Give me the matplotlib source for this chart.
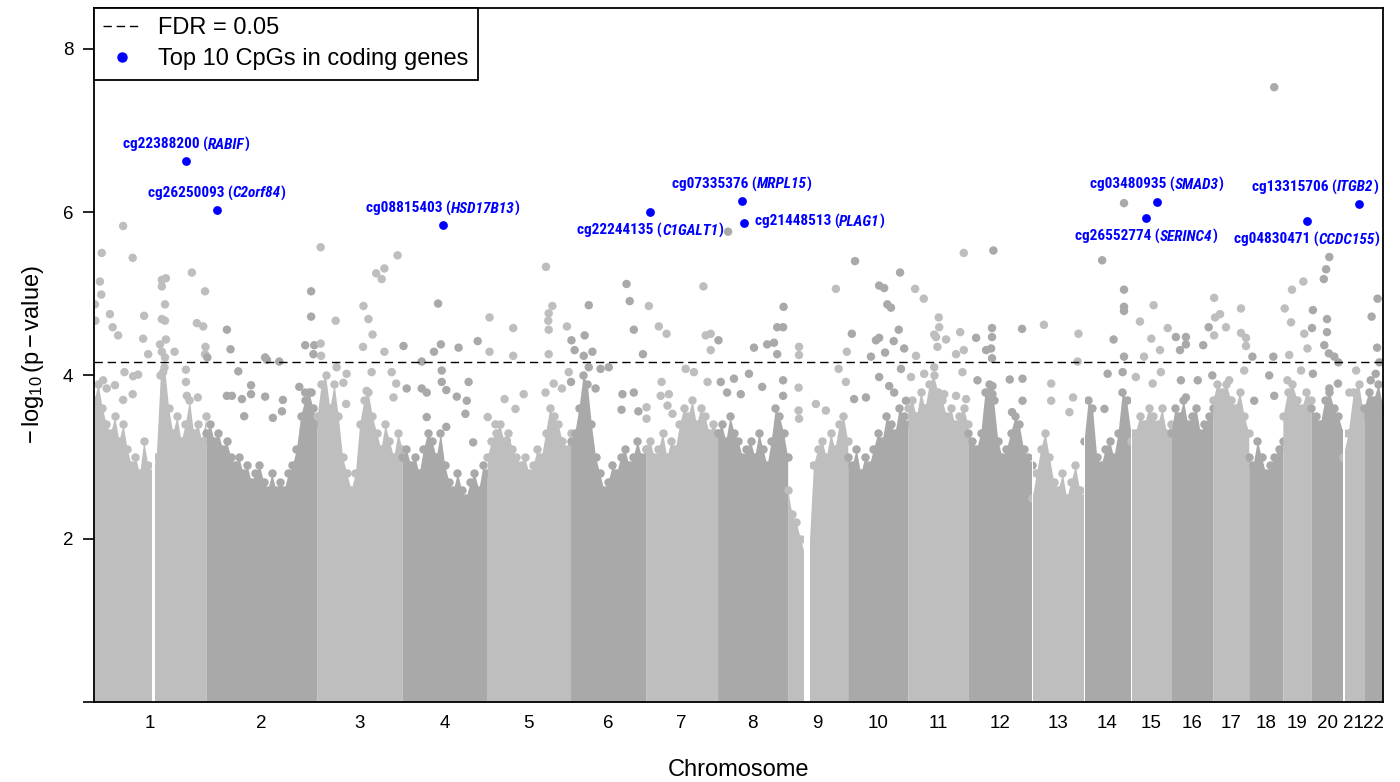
import matplotlib
matplotlib.use('Agg')
import matplotlib.pyplot as plt
from matplotlib import font_manager
from matplotlib.lines import Line2D
from matplotlib.offsetbox import TextArea, HPacker, AnnotationBbox
import numpy as np

# ---------------- data ----------------
chrom_names = [str(i) for i in range(1, 23)]
chrom_len = [246, 244, 187, 187, 183, 165, 158, 154, 132, 132, 132, 141,
             114, 103, 88, 92, 79, 75, 62, 70, 46, 42]          # plotted span (Mb)

# top of the dense point mass, at evenly spaced positions along each chromosome
core_1 = [3.7, 3.9, 3.6, 3.4, 3.3, 3.5, 3.2, 3.4, 3.1, 2.9, 3.0, 2.8, 3.2, 2.9, 2.8, 3.0, 4.0, 4.1, 3.6, 3.3, 3.5, 3.2, 3.4, 3.7, 3.3, 3.4, 3.2, 3.5]
core_2 = [3.3, 3.4, 3.2, 3.3, 3.1, 3.2, 3.0, 2.9, 3.0, 2.8, 2.9, 2.7, 2.8, 2.9, 2.7, 2.6, 2.8, 2.6, 2.7, 2.6, 2.8, 2.9, 3.1, 3.5, 3.7, 3.8, 3.6, 3.4]
core_3 = [3.5, 3.9, 4.0, 3.6, 3.9, 3.5, 3.0, 2.8, 2.6, 2.8, 3.4, 3.7, 3.8, 3.5, 3.3, 3.1, 3.4, 3.2, 3.0, 3.3, 3.1]
core_4 = [3.0, 3.1, 2.9, 3.0, 2.8, 3.1, 3.3, 3.2, 3.0, 3.3, 2.9, 2.7, 2.6, 2.8, 2.6, 2.5, 2.7, 2.8, 2.6, 2.9, 2.8]
core_5 = [3.0, 3.2, 3.3, 3.4, 3.2, 3.3, 3.1, 3.0, 2.9, 3.0, 2.8, 2.9, 3.1, 3.0, 3.3, 3.6, 3.5, 3.4, 3.2, 3.1, 3.3]
core_6 = [3.2, 3.3, 3.6, 4.0, 3.9, 3.4, 3.0, 2.8, 2.6, 2.7, 2.9, 2.8, 3.0, 3.1, 2.9, 3.0, 3.2, 3.0, 3.1]
core_7 = [3.1, 3.2, 3.0, 3.1, 3.3, 3.0, 3.2, 3.1, 3.4, 3.6, 3.5, 3.7, 3.4, 3.6, 3.5, 3.3, 3.4, 3.3]
core_8 = [3.3, 3.4, 3.2, 3.5, 3.3, 3.2, 3.0, 3.1, 3.2, 3.0, 3.3, 3.1, 2.9, 3.2, 3.6, 3.5, 3.3, 3.0]
core_9 = [2.6, 2.3, 2.2, 2.0, 1.8, 1.9, 2.9, 3.1, 3.2, 3.0, 3.3, 3.1, 3.4, 3.5, 3.2]
core_10 = [3.0, 2.9, 3.1, 2.8, 3.0, 2.9, 3.1, 3.3, 3.2, 3.5, 3.4, 3.3, 3.6, 3.5, 3.4]
core_11 = [3.6, 3.7, 3.5, 3.8, 3.6, 3.9, 4.0, 3.8, 3.7, 3.5, 3.6, 3.4, 3.5, 3.6, 3.4]
core_12 = [3.3, 3.2, 3.1, 3.3, 3.8, 3.9, 3.7, 3.2, 3.0, 3.1, 3.3, 3.5, 3.4, 3.1, 3.0, 2.9]
core_13 = [2.5, 2.8, 3.1, 3.3, 3.0, 2.7, 2.6, 2.8, 2.5, 2.7, 2.9, 2.6, 2.5]
core_14 = [3.2, 3.7, 3.6, 3.0, 2.9, 3.1, 3.2, 3.0, 3.3, 3.8, 3.7, 3.3]
core_15 = [3.2, 3.3, 3.5, 3.4, 3.6, 3.5, 3.4, 3.6, 3.3, 3.4]
core_16 = [3.3, 3.6, 3.5, 3.7, 3.4, 3.5, 3.6, 3.3, 3.4, 3.5, 3.6]
core_17 = [3.7, 3.9, 3.8, 3.9, 3.7, 3.6, 3.8, 3.5, 3.3]
core_18 = [3.0, 2.9, 3.2, 3.0, 2.8, 2.9, 3.0, 3.1, 3.2]
core_19 = [3.5, 3.8, 3.9, 3.7, 3.6, 3.8, 3.7]
core_20 = [3.6, 3.5, 3.4, 3.7, 3.8, 3.6, 3.5, 3.3]
core_21 = [3.0, 3.3, 3.8, 3.9, 3.5]
core_22 = [3.6, 3.8, 3.7, 3.9, 3.6]

# regions without probes (chromosome, start Mb, end Mb)
gap_chr = [1, 9, 13, 14, 15, 21]
gap_start = [128, 35, 0, 0, 0, 0]
gap_end = [134, 50, 3, 3, 3, 4]

# individual CpGs standing out above the dense mass
pt_chr, pt_pos, pt_val = [], [], []
def _add(c, pairs):
    for p, v in pairs:
        pt_chr.append(c); pt_pos.append(p); pt_val.append(v)

_add(1, [(64,5.83),(17,5.50),(85,5.44),(13,5.15),(16,4.99),(2,4.87),(35,4.75),(3,4.67),(41,4.59),(53,4.49),(110,4.73),(108,4.45),(119,4.26),(149,5.17),(158,5.19),(149,5.09),(156,4.87),(149,4.69),(156,4.67),(158,4.44),(145,4.38),(149,4.29),(156,4.22),(177,4.29),(215,5.26),(244,5.03),(226,4.64),(240,4.60),(245,4.35),(244,4.26),(67,4.04),(86,3.99),(97,4.01),(64,3.70),(85,3.77),(28,3.84),(46,3.88),(20,3.94),(152,4.04),(202,4.07),(202,3.92),(204,3.75),(228,3.73)])
_add(2, [(3,4.22),(46,4.56),(54,4.32),(130,4.22),(134,4.19),(161,4.17),(231,5.03),(231,4.72),(218,4.37),(238,4.37),(236,4.26),(71,4.05),(46,3.75),(57,3.75),(99,3.88),(99,3.77),(79,3.71),(130,3.74),(169,3.70),(205,3.86),(218,3.79),(232,3.79),(167,3.56),(147,3.48),(84,3.50)])
_add(3, [(8,5.57),(41,4.67),(8,4.39),(9,4.24),(102,4.85),(113,4.69),(122,4.50),(101,4.35),(130,5.25),(142,5.18),(148,5.31),(177,5.47),(148,4.29),(43,4.10),(65,4.02),(58,3.91),(64,3.65),(120,4.04),(109,3.81),(164,4.04),(174,3.90),(168,3.73)])
_add(4, [(3,4.36),(43,4.17),(70,4.29),(79,4.88),(85,4.38),(124,4.34),(166,4.42),(10,3.84),(43,3.84),(54,3.79),(87,4.06),(87,3.92),(97,3.82),(146,3.92),(120,3.74),(142,3.69),(139,3.53),(97,3.37),(54,3.49),(156,3.18)])
_add(5, [(5,4.71),(5,4.29),(57,4.58),(57,4.24),(129,5.33),(143,4.85),(135,4.76),(134,4.67),(135,4.56),(135,4.26),(175,4.60),(1,3.49),(18,3.40),(38,3.71),(43,3.20),(62,3.59),(80,3.77),(128,3.79),(146,3.90),(164,3.84),(179,4.04)])
_add(6, [(2,4.43),(9,4.31),(31,4.49),(48,4.29),(40,4.86),(123,5.12),(130,4.91),(139,4.56),(159,4.26),(29,4.24),(40,4.10),(66,4.08),(84,4.10),(55,3.84),(114,3.77),(139,3.79),(112,3.58),(149,3.56),(1,3.92)])
_add(7, [(7,4.85),(29,4.60),(46,4.51),(127,5.09),(132,4.49),(143,4.51),(143,4.31),(2,3.61),(2,3.47),(35,3.92),(33,3.75),(51,3.77),(48,3.63),(59,3.53),(88,4.08),(106,4.04),(136,3.92)])
_add(8, [(23,5.76),(2,4.43),(80,4.34),(109,4.38),(124,4.40),(131,4.26),(145,4.84),(131,4.59),(144,4.59),(7,3.92),(36,3.96),(21,3.79),(51,3.77),(69,4.02),(98,3.86),(144,3.94),(144,3.75)])
_add(9, [(25,4.35),(25,4.25),(106,5.06),(130,4.29),(24,3.85),(24,3.57),(25,3.47),(62,3.65),(84,3.57),(128,3.92),(112,4.08)])
_add(10, [(16,5.40),(9,4.51),(69,5.10),(80,5.07),(87,4.87),(95,4.83),(115,5.26),(112,4.56),(62,4.43),(69,4.46),(101,4.42),(124,4.33),(82,4.28),(51,4.23),(14,3.71),(40,3.73),(69,3.98),(91,3.87),(102,3.79),(117,4.08),(128,3.69)])
_add(11, [(16,5.06),(35,4.94),(68,4.71),(69,4.59),(58,4.50),(84,4.44),(65,4.35),(106,4.26),(115,4.53),(123,5.50),(123,4.31),(18,4.24),(7,3.98),(36,4.02),(62,4.47),(58,4.10),(80,3.77),(106,3.75),(120,4.04),(128,3.71)])
_add(12, [(56,5.53),(18,4.46),(53,4.58),(53,4.47),(51,4.33),(40,4.31),(53,4.21),(119,4.57),(21,3.94),(54,3.87),(54,3.77),(92,3.95),(120,3.96),(120,3.69),(97,3.55)])
_add(13, [(26,4.62),(102,4.51),(100,4.17),(42,3.90),(42,3.69),(90,3.73),(82,3.55)])
_add(14, [(40,5.41),(88,6.11),(88,5.05),(88,4.84),(88,4.79),(65,4.44),(88,4.23),(52,4.02),(85,4.04),(45,3.59)])
_add(15, [(50,4.86),(20,4.66),(45,4.45),(29,4.23),(64,4.31),(81,4.58),(11,3.98),(48,3.90),(66,4.04)])
_add(16, [(11,4.47),(33,4.47),(33,4.38),(20,4.31),(71,4.37),(83,4.59),(22,3.94),(33,3.73),(59,3.94),(91,4.00)])
_add(17, [(3,4.95),(5,4.71),(16,4.75),(29,4.59),(3,4.49),(62,4.82),(62,4.52),(73,4.46),(73,4.36),(36,3.94),(69,4.06)])
_add(18, [(56,7.53),(8,4.23),(54,4.23),(12,3.69),(45,4.00),(56,3.75)])
_add(19, [(14,4.25),(4,4.82),(18,4.65),(20,5.05),(45,5.15),(47,4.51),(54,4.33),(10,3.94),(40,4.06)])
_add(20, [(4,4.80),(2,4.58),(28,5.18),(33,5.30),(40,5.45),(35,4.69),(35,4.53),(29,4.37),(39,4.27),(51,4.23),(60,4.16),(4,4.02),(40,3.84),(59,3.90)])
_add(21, [(29,4.06),(14,3.79)])
_add(22, [(30,4.94),(17,4.72),(29,4.34),(34,4.16),(26,4.02),(15,3.94)])

fdr_threshold = 4.16

# top 10 CpGs in coding genes
top_cpg = ['cg22388200', 'cg26250093', 'cg08815403', 'cg22244135', 'cg07335376',
           'cg21448513', 'cg03480935', 'cg26552774', 'cg04830471', 'cg13315706']
top_gene = ['RABIF', 'C2orf84', 'HSD17B13', 'C1GALT1', 'MRPL15',
            'PLAG1', 'SMAD3', 'SERINC4', 'CCDC155', 'ITGB2']
top_chr = [1, 2, 4, 7, 8, 8, 15, 15, 19, 21]
top_pos = [202, 24, 90, 10, 54, 57, 57, 34, 52, 36]
top_val = [6.62, 6.03, 5.84, 6.00, 6.14, 5.87, 6.13, 5.93, 5.89, 6.10]

# ---------------- style ----------------
label_place = ['above', 'above', 'above', 'below', 'above', 'right', 'above', 'below', 'below', 'above_left']

plt.rcParams['font.family'] = ['Liberation Sans', 'DejaVu Sans']
plt.rcParams['mathtext.fontset'] = 'custom'
plt.rcParams['mathtext.rm'] = 'Liberation Sans'
plt.rcParams['mathtext.it'] = 'Liberation Sans:italic'

avail = {f.name for f in font_manager.fontManager.ttflist}
narrow = next((f for f in ['Liberation Sans Narrow', 'Roboto Condensed', 'Liberation Sans']
               if f in avail), 'DejaVu Sans')

light, dark = '#BEBEBE', '#A9A9A9'
blue = '#0000FF'
colors = [light if i % 2 == 0 else dark for i in range(22)]
cores = [core_1, core_2, core_3, core_4, core_5, core_6, core_7, core_8, core_9, core_10, core_11,
         core_12, core_13, core_14, core_15, core_16, core_17, core_18, core_19, core_20, core_21, core_22]

W, H = 1400, 782
fig = plt.figure(figsize=(W / 100, H / 100), dpi=100)
ax = fig.add_axes([94 / W, 1 - 702 / H, (1383 - 94) / W, (702 - 8) / H])

offsets = np.concatenate([[0], np.cumsum(chrom_len)[:-1]])
total = float(np.sum(chrom_len))
dot = 37

for i in range(22):
    h = np.array(cores[i], dtype=float)
    x = offsets[i] + np.linspace(0, chrom_len[i], len(h))
    ax.fill_between(x, 0, h, color=colors[i], lw=0, zorder=1)
    ax.scatter(x, h, s=dot, color=colors[i], linewidths=0, zorder=1)

for c, s, e in zip(gap_chr, gap_start, gap_end):
    ax.axvspan(offsets[c - 1] + s, offsets[c - 1] + e, color='white', lw=0, zorder=1.5)

pc = np.array(pt_chr) - 1
px = offsets[pc] + np.array(pt_pos, dtype=float)
pcol = [colors[k] for k in pc]
ax.scatter(px, pt_val, s=dot, c=pcol, linewidths=0, zorder=2)

dash = (0, (6, 3.5))
ax.axhline(fdr_threshold, color='black', lw=1.0, ls=dash, zorder=3)

tx = offsets[np.array(top_chr) - 1] + np.array(top_pos, dtype=float)
ax.scatter(tx, top_val, s=40, color=blue, linewidths=0, zorder=4)

tp = dict(color=blue, fontsize=11, fontfamily=narrow, fontweight='bold')
tpi = dict(tp, fontstyle='italic')
for x, v, cpg, gene, place in zip(tx, top_val, top_cpg, top_gene, label_place):
    pack = HPacker(children=[TextArea(cpg + ' (', textprops=tp),
                             TextArea(gene, textprops=tpi),
                             TextArea(')', textprops=tp)],
                   pad=0, sep=0, align='baseline')
    if place == 'above':
        xyb, al = (0, 12), (0.5, 0.5)
    elif place == 'below':
        xyb, al = (0, -13.5), (0.5, 0.5)
    elif place == 'right':
        xyb, al = (8, 1), (0.0, 0.5)
    else:
        xyb, al = (13.5, 12), (1.0, 0.5)
    ab = AnnotationBbox(pack, (x, v), xybox=xyb, xycoords='data', boxcoords='offset points',
                        box_alignment=al, frameon=False, pad=0, zorder=5)
    ax.add_artist(ab)

ax.set_xlim(0, total)
ax.set_ylim(0, 8.5)
centers = offsets + np.array(chrom_len) / 2.0
ax.set_xticks(centers)
ax.set_xticklabels(chrom_names)
ax.set_yticks([0, 2, 4, 6, 8])
ax.set_yticklabels(['', '2', '4', '6', '8'])
ax.tick_params(axis='x', length=0, pad=9.5, labelsize=13.5)
ax.tick_params(axis='y', length=8, width=1.2, pad=7, labelsize=13.5)
for sp in ax.spines.values():
    sp.set_linewidth(1.3)

ax.set_xlabel('Chromosome', fontsize=17, labelpad=19)
ax.set_ylabel(r'$-\,\log_{10}(\mathrm{p}-\mathrm{value})$', fontsize=17, labelpad=12)

h1 = Line2D([], [], color='black', ls=dash, lw=1.0)
h2 = Line2D([], [], color=blue, marker='o', ls='none', markersize=6.5)
leg = ax.legend([h1, h2], ['FDR = 0.05', 'Top 10 CpGs in coding genes'], loc='upper left',
                borderaxespad=0, fancybox=False, frameon=True, edgecolor='black', framealpha=1,
                fontsize=17, handlelength=1.55, handletextpad=0.75, borderpad=0.4, labelspacing=0.38)
leg.get_frame().set_linewidth(1.3)
leg.set_zorder(6)

fig.savefig('out.png', dpi=100)
